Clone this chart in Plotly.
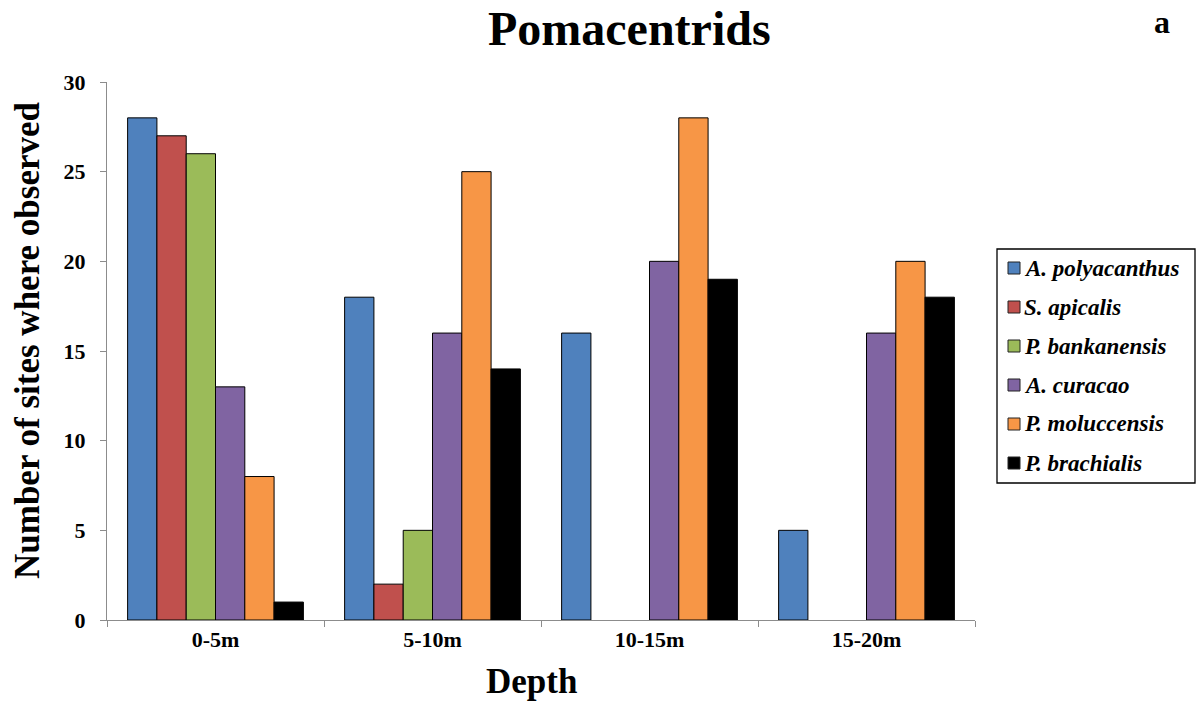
import plotly.graph_objects as go

# Depth bands and number of sites where each species was observed
depths = ["0-5m", "5-10m", "10-15m", "15-20m"]
species = ["A. polyacanthus", "S. apicalis", "P. bankanensis",
           "A. curacao", "P. moluccensis", "P. brachialis"]
a_polyacanthus = [28, 18, 16, 5]
s_apicalis = [27, 2, 0, 0]
p_bankanensis = [26, 5, 0, 0]
a_curacao = [13, 16, 20, 16]
p_moluccensis = [8, 25, 28, 20]
p_brachialis = [1, 14, 19, 18]

series = [a_polyacanthus, s_apicalis, p_bankanensis,
          a_curacao, p_moluccensis, p_brachialis]
colors = ["#4F81BD", "#C0504D", "#9BBB59", "#8064A2", "#F79646", "#000000"]

SERIF = "Times New Roman, Liberation Serif, serif"
W, H = 1202, 706
L, R, T, B = 107, 227, 82, 86
PW, PH = W - L - R, H - T - B


def px(x):
    """Horizontal pixel -> paper fraction."""
    return (x - L) / PW


def py(y):
    """Vertical pixel (from top) -> paper fraction."""
    return (H - B - y) / PH


fig = go.Figure()
for name, vals, col in zip(species, series, colors):
    fig.add_trace(go.Bar(
        x=depths, y=vals, name=name, showlegend=False,
        marker=dict(color=col,
                    line=dict(color="#000000",
                              width=[1 if v > 0 else 0 for v in vals])),
    ))

# Boxed legend on the right
shapes = [dict(type="rect", xref="paper", yref="paper",
               x0=px(997), x1=px(1195), y0=py(249), y1=py(483),
               line=dict(color="#000000", width=1.3), fillcolor="white")]
annotations = []
for k, (name, col) in enumerate(zip(species, colors)):
    cy = 268 + 39 * k
    shapes.append(dict(type="rect", xref="paper", yref="paper",
                       x0=px(1008), x1=px(1020), y0=py(cy + 6), y1=py(cy - 6),
                       line=dict(color="#222222", width=1), fillcolor=col))
    annotations.append(dict(text=f"<b><i>{name}</i></b>", xref="paper", yref="paper",
                            x=px(1022), y=py(cy), xanchor="left", yanchor="middle",
                            showarrow=False,
                            font=dict(family=SERIF, size=23, color="#000000")))

annotations += [
    dict(text="<b>Pomacentrids</b>", xref="paper", yref="paper",
         x=px(629), y=py(29), yanchor="middle", showarrow=False,
         font=dict(family=SERIF, size=48, color="#000000")),
    dict(text="<b>a</b>", xref="paper", yref="paper",
         x=px(1172), y=py(22), yanchor="middle", showarrow=False,
         font=dict(family=SERIF, size=32, color="#000000")),
    dict(text="<b>Number of sites where observed</b>", xref="paper", yref="paper",
         x=px(27), y=py(340), xanchor="center", yanchor="middle",
         showarrow=False, textangle=-90,
         font=dict(family=SERIF, size=35, color="#000000")),
    dict(text="<b>Depth</b>", xref="paper", yref="paper",
         x=px(531), y=py(681), yanchor="middle", showarrow=False,
         font=dict(family=SERIF, size=35, color="#000000")),
]

fig.update_layout(
    width=W, height=H,
    margin=dict(l=L, r=R, t=T, b=B),
    paper_bgcolor="white", plot_bgcolor="white",
    barmode="group", bargap=0.19, bargroupgap=0,
    font=dict(family=SERIF, color="#000000"),
    showlegend=False,
    xaxis=dict(
        showline=True, linecolor="#8c8c8c", linewidth=1,
        ticks="outside", tickson="boundaries", ticklen=6, tickcolor="#8c8c8c",
        tickfont=dict(family=SERIF, size=22, color="#000000", weight="bold"),
        showgrid=False,
    ),
    yaxis=dict(
        range=[0, 30], dtick=5, tickmode="linear", tick0=0,
        showline=True, linecolor="#8c8c8c", linewidth=1,
        ticks="outside", ticklen=6, tickcolor="#8c8c8c",
        tickfont=dict(family=SERIF, size=22, color="#000000", weight="bold"),
        ticklabelstandoff=10,
        showgrid=False, zeroline=False,
    ),
    shapes=shapes,
    annotations=annotations,
)

fig.write_html("out.html")
